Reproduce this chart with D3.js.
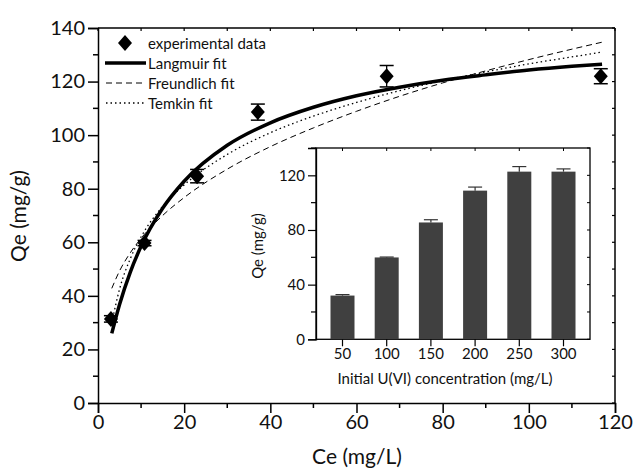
<!DOCTYPE html>
<html><head><meta charset="utf-8">
<script src="https://cdn.jsdelivr.net/npm/d3@7"></script>
<style>body{margin:0;background:#fff}svg{display:block}text{font-family:Lato,sans-serif;fill:#111}</style>
</head><body><svg id="c" width="635" height="470"></svg>
<script>
// Experimental data (main plot)
const ceData = [3.0, 10.8, 23.0, 37.1, 67.0, 116.7];
const qeData = [31.4, 59.7, 84.7, 108.6, 122.0, 122.0];
const qeErr  = [1.2, 1.0, 2.5, 3.0, 4.0, 2.8];
// Fit curves
const fitCe = [3.2, 5, 7.5, 10, 15, 20, 30, 40, 50, 60, 70, 80, 90, 100, 110, 117];
const langmuirQe   = [26.0, 36.8, 48.9, 58.5, 72.7, 82.8, 96.2, 104.6, 110.4, 114.7, 117.9, 120.5, 122.5, 124.3, 125.7, 126.5];
const freundlichQe = [42.8, 49.3, 56.1, 61.5, 70.0, 76.7, 87.3, 95.7, 102.7, 108.9, 114.5, 119.5, 124.0, 128.2, 132.1, 134.7];
const temkinQe     = [30.0, 42.5, 53.9, 62.0, 73.4, 81.4, 92.8, 100.9, 107.1, 112.2, 116.6, 120.3, 123.6, 126.6, 129.2, 131.0];
// Inset bars
const insetCats = ["50", "100", "150", "200", "250", "300"];
const insetQe   = [32.0, 59.9, 85.5, 108.8, 122.7, 122.7];
const insetErr  = [0.7, 0.3, 2.0, 2.6, 3.7, 2.0];
// Ticks
const xTicks = [0, 20, 40, 60, 80, 100, 120];
const yTicks = [0, 20, 40, 60, 80, 100, 120, 140];
const insetYTicks = [0, 40, 80, 120];
const legendLabels = ["experimental data", "Langmuir fit", "Freundlich fit", "Temkin fit"];

const FONT = "Lato, sans-serif";
const svg = d3.select("#c");
const x = d3.scaleLinear().domain([0, 120]).range([98, 615]);
const y = d3.scaleLinear().domain([0, 140]).range([403, 28]);

// Frame top/right
svg.append("line").attr("x1", 98).attr("x2", 615).attr("y1", 28).attr("y2", 28).attr("stroke", "#000").attr("stroke-width", 1.5);
svg.append("line").attr("x1", 615).attr("x2", 615).attr("y1", 28).attr("y2", 403).attr("stroke", "#000").attr("stroke-width", 1.5);
const xAll = d3.range(0, 121, 10), yAll = d3.range(0, 141, 10);
svg.append("g").selectAll("line").data(xAll).join("line")
  .attr("x1", d => x(d)).attr("x2", d => x(d)).attr("y1", 28).attr("y2", 31).attr("stroke", "#000").attr("stroke-width", 1.2);
svg.append("g").selectAll("line").data(yAll).join("line")
  .attr("x1", 612).attr("x2", 615).attr("y1", d => y(d)).attr("y2", d => y(d)).attr("stroke", "#000").attr("stroke-width", 1.2);

// Axes
const gx = svg.append("g").attr("transform", "translate(0,403)")
  .call(d3.axisBottom(x).tickValues(xTicks).tickSize(10).tickPadding(2).tickFormat(d3.format("d")));
gx.append("g").selectAll("line").data(d3.range(10, 120, 20)).join("line")
  .attr("x1", d => x(d)).attr("x2", d => x(d)).attr("y1", 0).attr("y2", 5).attr("stroke", "#000").attr("stroke-width", 1.5);
const gy = svg.append("g").attr("transform", "translate(98,0)")
  .call(d3.axisLeft(y).tickValues(yTicks).tickSize(10).tickPadding(3).tickFormat(d3.format("d")));
gy.append("g").selectAll("line").data(d3.range(10, 140, 20)).join("line")
  .attr("y1", d => y(d)).attr("y2", d => y(d)).attr("x1", 0).attr("x2", -5).attr("stroke", "#000").attr("stroke-width", 1.5);
[gx, gy].forEach(g => {
  g.select(".domain").attr("stroke-width", 1.5);
  g.selectAll(".tick line").attr("stroke-width", 1.5);
  g.selectAll(".tick text").attr("font-size", 20).attr("fill", "#111").style("font-family", FONT);
});

svg.append("text").attr("x", 357).attr("y", 464).attr("text-anchor", "middle").attr("font-size", 21).text("Ce (mg/L)");
svg.append("text").attr("transform", "translate(26,216) rotate(-90)").attr("text-anchor", "middle").attr("font-size", 21).text("Qe (mg/g)");

// Fit lines
const line = d3.line().curve(d3.curveMonotoneX).x(d => x(d[0])).y(d => y(d[1]));
svg.append("path").datum(d3.zip(fitCe, freundlichQe)).attr("d", line).attr("fill", "none").attr("stroke", "#000").attr("stroke-width", 1).attr("stroke-dasharray", "6,4");
svg.append("path").datum(d3.zip(fitCe, temkinQe)).attr("d", line).attr("fill", "none").attr("stroke", "#000").attr("stroke-width", 1.3).attr("stroke-dasharray", "1.5,3");
svg.append("path").datum(d3.zip(fitCe, langmuirQe)).attr("d", line).attr("fill", "none").attr("stroke", "#000").attr("stroke-width", 3.5);

// Data points with error bars
const pts = d3.zip(ceData, qeData, qeErr);
const pg = svg.append("g").selectAll("g").data(pts).join("g");
pg.append("line").attr("x1", d => x(d[0])).attr("x2", d => x(d[0])).attr("y1", d => y(d[1] + d[2])).attr("y2", d => y(d[1] - d[2])).attr("stroke", "#000").attr("stroke-width", 1.3);
pg.append("line").attr("x1", d => x(d[0]) - 7).attr("x2", d => x(d[0]) + 7).attr("y1", d => y(d[1] + d[2])).attr("y2", d => y(d[1] + d[2])).attr("stroke", "#000").attr("stroke-width", 1.5);
pg.append("line").attr("x1", d => x(d[0]) - 7).attr("x2", d => x(d[0]) + 7).attr("y1", d => y(d[1] - d[2])).attr("y2", d => y(d[1] - d[2])).attr("stroke", "#000").attr("stroke-width", 1.5);
pg.append("path").attr("d", "M0,-8L7,0L0,8L-7,0Z").attr("transform", d => `translate(${x(d[0])},${y(d[1])})`).attr("fill", "#000");

// Legend
const lg = svg.append("g");
lg.append("path").attr("d", "M0,-8L7,0L0,8L-7,0Z").attr("transform", "translate(125,43)").attr("fill", "#000");
lg.append("line").attr("x1", 105).attr("x2", 146).attr("y1", 63).attr("y2", 63).attr("stroke", "#000").attr("stroke-width", 3.5);
lg.append("line").attr("x1", 106).attr("x2", 145).attr("y1", 83).attr("y2", 83).attr("stroke", "#000").attr("stroke-width", 1).attr("stroke-dasharray", "6,4");
lg.append("line").attr("x1", 106).attr("x2", 145).attr("y1", 103).attr("y2", 103).attr("stroke", "#000").attr("stroke-width", 1.3).attr("stroke-dasharray", "1.5,3");
lg.selectAll("text").data(legendLabels).join("text")
  .attr("x", 148).attr("y", (d, i) => 48.5 + i * 20).attr("font-size", 15).text(d => d);

// Inset
const ix = d3.scaleBand().domain(insetCats).range([316, 590]).paddingInner(0.457).paddingOuter(0.328);
const iy = d3.scaleLinear().domain([0, 140]).range([339.3, 148]);
const ins = svg.append("g");
ins.append("rect").attr("x", 316).attr("y", 148).attr("width", 274).attr("height", 191.3).attr("fill", "#fff").attr("stroke", "#000").attr("stroke-width", 1.3);
ins.selectAll("rect.bar").data(d3.zip(insetCats, insetQe)).join("rect").attr("class", "bar")
  .attr("x", d => ix(d[0])).attr("width", ix.bandwidth()).attr("y", d => iy(d[1])).attr("height", d => iy(0) - iy(d[1])).attr("fill", "#404040");
const ie = ins.append("g").selectAll("g").data(d3.zip(insetCats, insetQe, insetErr)).join("g");
ie.append("line").attr("x1", d => ix(d[0]) + ix.bandwidth() / 2).attr("x2", d => ix(d[0]) + ix.bandwidth() / 2)
  .attr("y1", d => iy(d[1] + d[2])).attr("y2", d => iy(d[1])).attr("stroke", "#333").attr("stroke-width", 1.2);
ie.append("line").attr("x1", d => ix(d[0]) + ix.bandwidth() / 2 - 7).attr("x2", d => ix(d[0]) + ix.bandwidth() / 2 + 7)
  .attr("y1", d => iy(d[1] + d[2])).attr("y2", d => iy(d[1] + d[2])).attr("stroke", "#333").attr("stroke-width", 1.2);
ins.append("g").selectAll("line").data(insetCats).join("line")
  .attr("x1", d => ix(d) + ix.bandwidth() / 2).attr("x2", d => ix(d) + ix.bandwidth() / 2).attr("y1", 148).attr("y2", 151).attr("stroke", "#000");
ins.append("g").selectAll("line").data(d3.range(0, 141, 20)).join("line")
  .attr("x1", 587).attr("x2", 590).attr("y1", d => iy(d)).attr("y2", d => iy(d)).attr("stroke", "#000");
const igx = ins.append("g").attr("transform", "translate(0,339.3)")
  .call(d3.axisBottom(ix).tickSize(7).tickPadding(2));
const igy = ins.append("g").attr("transform", "translate(316,0)")
  .call(d3.axisLeft(iy).tickValues(insetYTicks).tickSize(8).tickPadding(3));
igy.append("g").selectAll("line").data([20, 60, 100, 140]).join("line")
  .attr("y1", d => iy(d)).attr("y2", d => iy(d)).attr("x1", 0).attr("x2", -5).attr("stroke", "#000").attr("stroke-width", 1.2);
[igx, igy].forEach(g => {
  g.select(".domain").attr("stroke-width", 1.3);
  g.selectAll(".tick line").attr("stroke-width", 1.2);
  g.selectAll(".tick text").attr("font-size", 15).attr("fill", "#111").style("font-family", FONT);
});
igx.select(".domain").remove();
ins.append("text").attr("x", 445).attr("y", 384).attr("text-anchor", "middle").attr("font-size", 15).text("Initial U(VI) concentration (mg/L)");
ins.append("text").attr("transform", "translate(263,246) rotate(-90)").attr("text-anchor", "middle").attr("font-size", 15).text("Qe (mg/g)");
</script></body></html>
